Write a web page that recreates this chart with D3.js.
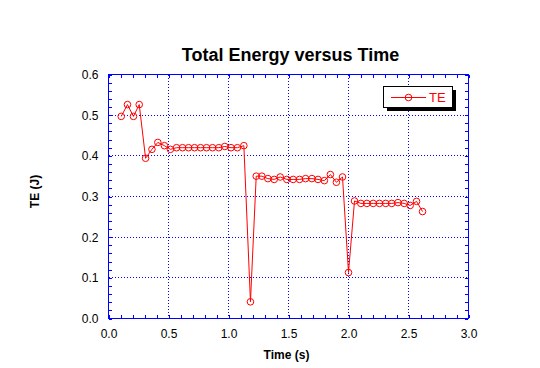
<!DOCTYPE html>
<html>
<head>
<script src="https://d3js.org/d3.v7.min.js"></script>
<style>
  body { margin: 0; background: #fff; font-family: "Liberation Sans", Arial, sans-serif; }
  .tick-label { font-size: 12px; fill: #000; }
  .crisp line, .crisp rect { shape-rendering: crispEdges; }
</style>
</head>
<body>
<div id="chart"></div>
<script>
// data
const times = [0.106, 0.158, 0.208, 0.256, 0.309, 0.362, 0.411, 0.466, 0.516, 0.567,
               0.617, 0.667, 0.717, 0.767, 0.817, 0.867, 0.919, 0.969, 1.021, 1.074,
               1.128, 1.183, 1.231, 1.278, 1.328, 1.381, 1.431, 1.486, 1.539, 1.592,
               1.642, 1.695, 1.746, 1.799, 1.849, 1.899, 1.950, 2.000, 2.050, 2.103,
               2.153, 2.206, 2.258, 2.310, 2.360, 2.412, 2.464, 2.514, 2.567, 2.617];
const energy = [0.497, 0.526, 0.497, 0.526, 0.394, 0.416, 0.433, 0.425, 0.416, 0.420,
                0.420, 0.420, 0.420, 0.420, 0.420, 0.420, 0.420, 0.423, 0.420, 0.420,
                0.425, 0.041, 0.350, 0.350, 0.344, 0.342, 0.348, 0.342, 0.342, 0.342,
                0.344, 0.344, 0.342, 0.339, 0.354, 0.335, 0.348, 0.113, 0.289, 0.283,
                0.283, 0.283, 0.283, 0.283, 0.283, 0.285, 0.283, 0.278, 0.288, 0.263];
const xTicks = [0, 0.5, 1.0, 1.5, 2.0, 2.5, 3.0];
const yTicks = [0, 0.1, 0.2, 0.3, 0.4, 0.5, 0.6];
const seriesName = "TE";

const W = 540, H = 368;
const margin = { top: 74.5, left: 108.5, right: 71.5, bottom: 49.5 };
const pw = W - margin.left - margin.right;
const ph = H - margin.top - margin.bottom;
const axisColor = "#0000ff";
const lineColor = "#ff0000";

const svg = d3.select("#chart").append("svg")
    .attr("width", W).attr("height", H);

const x = d3.scaleLinear().domain([0, 3]).range([margin.left, margin.left + pw]);
const y = d3.scaleLinear().domain([0, 0.6]).range([margin.top + ph, margin.top]);

// dotted grid
const grid = svg.append("g").attr("class", "crisp");
grid.selectAll(".gx")
    .data(xTicks.slice(1, -1)).join("line").attr("class", "gx")
    .attr("x1", d => x(d)).attr("x2", d => x(d))
    .attr("y1", y(0.6)).attr("y2", y(0))
    .attr("stroke", axisColor).attr("stroke-dasharray", "1,2");
grid.selectAll(".gy")
    .data(yTicks.slice(1, -1)).join("line").attr("class", "gy")
    .attr("y1", d => y(d)).attr("y2", d => y(d))
    .attr("x1", x(0)).attr("x2", x(3))
    .attr("stroke", axisColor).attr("stroke-dasharray", "1,2");

// minor ticks inside the frame
const xMinor = d3.range(0, 31).map(i => i / 10);
const yMinor = d3.range(0, 31).map(i => i / 50);
function tickAxis(axis, tx, ty) {
  const g = svg.append("g").attr("class", "crisp")
      .attr("transform", `translate(${tx},${ty})`)
      .call(axis.tickSize(-3).tickFormat(""));
  g.select(".domain").remove();
  g.selectAll("line").attr("stroke", axisColor);
}
tickAxis(d3.axisBottom(x).tickValues(xMinor), 0, y(0) - 0.5);
tickAxis(d3.axisTop(x).tickValues(xMinor), 0, y(0.6) + 0.5);
tickAxis(d3.axisLeft(y).tickValues(yMinor), x(0) + 0.5, 0);
tickAxis(d3.axisRight(y).tickValues(yMinor), x(3) - 0.5, 0);

// frame
svg.append("g").attr("class", "crisp").append("rect")
    .attr("x", x(0)).attr("y", y(0.6))
    .attr("width", pw).attr("height", ph)
    .attr("fill", "none").attr("stroke", axisColor).attr("stroke-width", 1);

// tick labels
const xLab = svg.append("g").attr("transform", `translate(0,${y(0)})`)
    .call(d3.axisBottom(x).tickValues(xTicks).tickSize(0).tickPadding(11).tickFormat(d3.format(".1f")));
xLab.select(".domain").remove();
xLab.selectAll("text").attr("class", "tick-label").attr("font-family", null).attr("font-size", null);

const yLab = svg.append("g").attr("transform", `translate(${x(0)},0)`)
    .call(d3.axisLeft(y).tickValues(yTicks).tickSize(0).tickPadding(10).tickFormat(d3.format(".1f")));
yLab.select(".domain").remove();
yLab.selectAll("text").attr("class", "tick-label").attr("font-family", null).attr("font-size", null);

// titles
svg.append("text")
    .attr("x", (x(0) + x(3)) / 2 + 2).attr("y", 61)
    .attr("text-anchor", "middle")
    .attr("font-size", 18).attr("font-weight", "bold")
    .text("Total Energy versus Time");
svg.append("text")
    .attr("x", (x(0) + x(3)) / 2 - 2).attr("y", 359)
    .attr("text-anchor", "middle")
    .attr("font-size", 12).attr("font-weight", "bold")
    .text("Time (s)");
svg.append("text")
    .attr("transform", `translate(39,${(y(0) + y(0.6)) / 2 - 5}) rotate(-90)`)
    .attr("text-anchor", "middle")
    .attr("font-size", 12).attr("font-weight", "bold")
    .text("TE (J)");

// series
const pts = times.map((t, i) => [t, energy[i]]);
svg.append("path")
    .datum(pts)
    .attr("d", d3.line().x(d => x(d[0])).y(d => y(d[1])))
    .attr("fill", "none").attr("stroke", lineColor).attr("stroke-width", 1);
svg.append("g").selectAll("circle")
    .data(pts).join("circle")
    .attr("cx", d => x(d[0])).attr("cy", d => y(d[1])).attr("r", 3.3)
    .attr("fill", "none").attr("stroke", lineColor).attr("stroke-width", 1);

// legend
const lg = svg.append("g").attr("class", "crisp").attr("transform", "translate(383,86)");
lg.append("rect").attr("x", 4).attr("y", 4).attr("width", 69).attr("height", 21).attr("fill", "#000");
lg.append("rect").attr("x", 0.5).attr("y", 0.5).attr("width", 69).attr("height", 21)
    .attr("fill", "#fff").attr("stroke", "#000");
lg.append("line").attr("x1", 8).attr("x2", 43).attr("y1", 11.5).attr("y2", 11.5)
    .attr("stroke", lineColor);
lg.append("circle").attr("cx", 25.5).attr("cy", 11.5).attr("r", 3.3)
    .attr("fill", "none").attr("stroke", lineColor);
lg.append("text").attr("x", 46).attr("y", 16)
    .attr("font-size", 13).attr("fill", lineColor).text(seriesName);
</script>
</body>
</html>
